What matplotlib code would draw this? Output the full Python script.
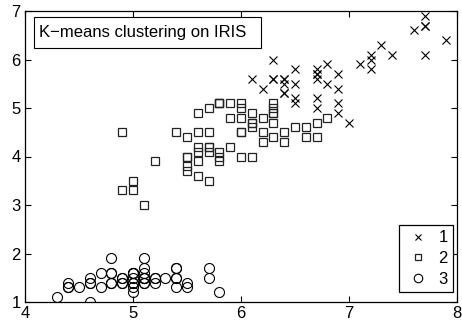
import matplotlib
matplotlib.use("Agg")
import matplotlib.pyplot as plt
from matplotlib.patches import Rectangle

# IRIS: sepal length (x) vs petal length (y), split by k-means cluster
c1_x = [7.0, 6.9, 6.7, 6.3, 7.1, 6.3, 6.5, 7.6, 7.3, 6.7, 7.2, 6.5, 6.4, 6.8, 6.4, 6.5, 7.7, 7.7, 6.9,
        7.7, 6.7, 7.2, 6.4, 7.2, 7.4, 7.9, 6.4, 6.1, 7.7, 6.3, 6.4, 6.9, 6.7, 6.9, 6.8, 6.7, 6.7, 6.5, 6.2]
c1_y = [4.7, 4.9, 5.0, 6.0, 5.9, 5.6, 5.8, 6.6, 6.3, 5.8, 6.1, 5.1, 5.3, 5.5, 5.3, 5.5, 6.7, 6.9, 5.7,
        6.7, 5.7, 6.0, 5.6, 5.8, 6.1, 6.4, 5.6, 5.6, 6.1, 5.6, 5.5, 5.4, 5.6, 5.1, 5.9, 5.7, 5.2, 5.2, 5.4]

c2_x = [6.4, 5.5, 6.5, 5.7, 6.3, 4.9, 6.6, 5.2, 5.0, 5.9, 6.0, 6.1, 5.6, 6.7, 5.6, 5.8, 6.2, 5.6, 5.9,
        6.1, 6.3, 6.1, 6.4, 6.6, 6.8, 6.0, 5.7, 5.5, 5.5, 5.8, 6.0, 5.4, 6.0, 6.7, 6.3, 5.6, 5.5, 5.5,
        6.1, 5.8, 5.0, 5.6, 5.7, 5.7, 6.2, 5.1, 5.7,
        5.8, 4.9, 5.7, 5.8, 6.0, 5.6, 6.3, 6.2, 6.1, 6.3, 6.0, 5.8, 6.3, 5.9]
c2_y = [4.5, 4.0, 4.6, 4.5, 4.7, 3.3, 4.6, 3.9, 3.5, 4.2, 4.0, 4.7, 3.6, 4.4, 4.5, 4.1, 4.5, 3.9, 4.8,
        4.0, 4.9, 4.7, 4.3, 4.4, 4.8, 4.5, 3.5, 3.8, 3.7, 3.9, 5.1, 4.5, 4.5, 4.7, 4.4, 4.1, 4.0, 4.4,
        4.6, 4.0, 3.3, 4.2, 4.2, 4.2, 4.3, 3.0, 4.1,
        5.1, 4.5, 5.0, 5.1, 5.0, 4.9, 4.9, 4.8, 4.9, 5.1, 4.8, 5.1, 5.0, 5.1]

c3_x = [5.1, 4.9, 4.7, 4.6, 5.0, 5.4, 4.6, 5.0, 4.4, 4.9, 5.4, 4.8, 4.8, 4.3, 5.8, 5.7, 5.4, 5.1, 5.7,
        5.1, 5.4, 5.1, 4.6, 5.1, 4.8, 5.0, 5.0, 5.2, 5.2, 4.7, 4.8, 5.4, 5.2, 5.5, 4.9, 5.0, 5.5, 4.9,
        4.4, 5.1, 5.0, 4.5, 4.4, 5.0, 5.1, 4.8, 5.1, 4.6, 5.3, 5.0]
c3_y = [1.4, 1.4, 1.3, 1.5, 1.4, 1.7, 1.4, 1.5, 1.4, 1.5, 1.5, 1.6, 1.4, 1.1, 1.2, 1.5, 1.3, 1.4, 1.7,
        1.5, 1.7, 1.5, 1.0, 1.7, 1.9, 1.6, 1.6, 1.5, 1.4, 1.6, 1.6, 1.5, 1.5, 1.4, 1.5, 1.2, 1.3, 1.4,
        1.3, 1.5, 1.3, 1.3, 1.3, 1.6, 1.9, 1.4, 1.6, 1.4, 1.5, 1.4]

labels = ["1", "2", "3"]

plt.rcParams["font.family"] = ["Liberation Sans", "DejaVu Sans"]

fig = plt.figure(figsize=(4.62, 3.26), dpi=100)
ax = fig.add_axes([25 / 462, 24 / 326, 432 / 462, 291 / 326])

ax.plot(c1_x, c1_y, "x", color="black", ms=5.2, mew=0.8, label=labels[0])
ax.plot(c2_x, c2_y, "s", mfc="none", mec="#222222", ms=5.8, mew=0.9, label=labels[1])
ax.plot(c3_x, c3_y, "o", mfc="none", mec="black", ms=7.2, mew=0.8, label=labels[2])

ax.set_xlim(4, 8)
ax.set_ylim(1, 7)
ax.set_xticks([4, 5, 6, 7, 8])
ax.set_yticks([1, 2, 3, 4, 5, 6, 7])
ax.tick_params(direction="in", length=4, width=0.8, labelsize=12, top=True, right=True, pad=3)
for s in ax.spines.values():
    s.set_linewidth(0.9)

# title box drawn as a separate frame so its padding can differ by side
ax.add_patch(Rectangle((0.0208, 0.873), 0.525, 0.106, transform=ax.transAxes,
                       fc="white", ec="black", lw=0.8, zorder=4))
ax.text(0.0324, 0.926, "K\u2212means clustering on IRIS", transform=ax.transAxes, fontsize=12,
        va="center", ha="left", zorder=5)

leg = ax.legend(loc="lower right", bbox_to_anchor=(0.990, 0.034), borderaxespad=0, fontsize=12,
                fancybox=False, framealpha=1, edgecolor="black", handlelength=1.7,
                handletextpad=0.36, labelspacing=0.35, borderpad=0.3, markerscale=0.85)
leg.get_frame().set_linewidth(0.9)

fig.savefig("out.png", dpi=100)
